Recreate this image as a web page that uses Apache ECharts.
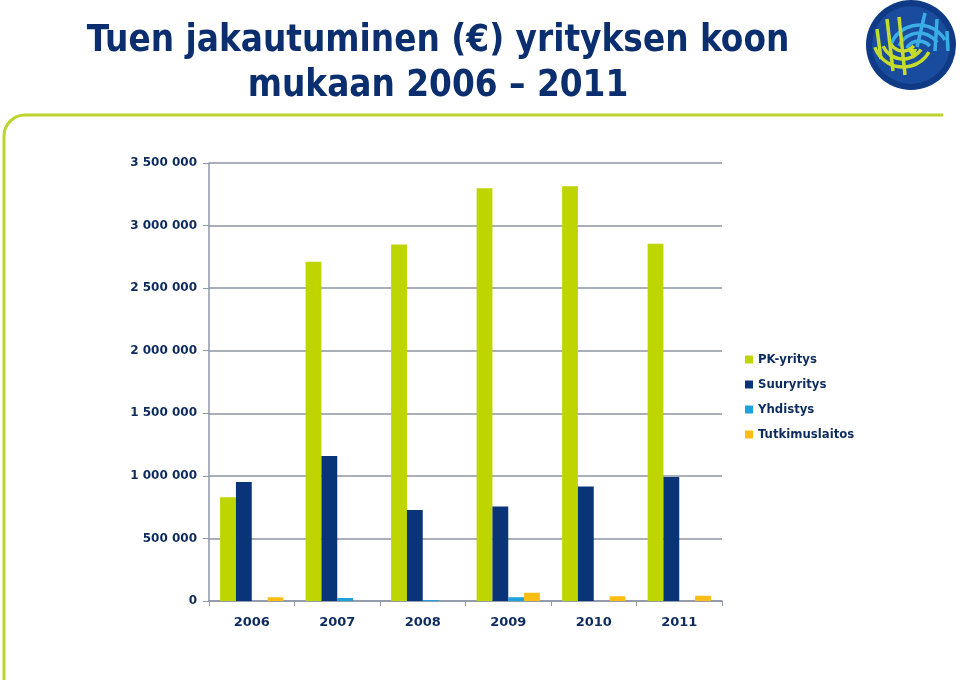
<!DOCTYPE html>
<html>
<head>
<meta charset="utf-8">
<script src="https://cdn.jsdelivr.net/npm/echarts@6/dist/echarts.min.js"></script>
<style>
html,body{margin:0;padding:0;background:#fff;}
#c{width:960px;height:685px;}
</style>
</head>
<body>
<div id="c"></div>
<script>
var titleText = 'Tuen jakautuminen (€) yrityksen koon\nmukaan 2006 – 2011';
var years = ['2006', '2007', '2008', '2009', '2010', '2011'];
var seriesNames = ['PK-yritys', 'Suuryritys', 'Yhdistys', 'Tutkimuslaitos'];
var pkYritys = [830000, 2710000, 2848000, 3299000, 3315000, 2855000];
var suuryritys = [950000, 1158000, 727000, 755000, 914000, 990000];
var yhdistys = [0, 24000, 8000, 30000, 0, 0];
var tutkimuslaitos = [30000, 0, 0, 66000, 38000, 42000];
var yTicks = { min: 0, max: 3500000, interval: 500000 };

var colors = ['#bfd500', '#0a3478', '#1ea0da', '#fbbd12'];
var navy = '#0e2b5e';
var lime = '#bdd42e';

function fmt(v) {
  return String(v).replace(/\B(?=(\d{3})+(?!\d))/g, ' ');
}

var chart = echarts.init(document.getElementById('c'), null, { renderer: 'canvas' });

var dataSets = [pkYritys, suuryritys, yhdistys, tutkimuslaitos];
var series = seriesNames.map(function (n, i) {
  return {
    name: n,
    type: 'bar',
    data: dataSets[i],
    barGap: '0%',
    barCategoryGap: '26%',
    itemStyle: { color: colors[i] },
    silent: true
  };
});

var D = Math.PI / 180;
var lcx = 911, lcy = 45;
var lb = '#3aaee4', lg = '#c6dc2c';
var logo = [
  { type: 'circle', shape: { cx: lcx, cy: lcy, r: 45 }, style: { fill: '#0e3a86' } },
  { type: 'circle', shape: { cx: lcx, cy: lcy, r: 39 }, style: { fill: '#1a4c9e' } }
];
[[30, 200, 330], [22, 205, 325], [14, 210, 320]].forEach(function (a) {
  logo.push({ type: 'arc', shape: { cx: lcx + 8, cy: lcy + 10, r: a[0], startAngle: a[1] * D, endAngle: a[2] * D }, style: { stroke: lb, lineWidth: 3.5, fill: null } });
});
[[14, -32, 6, 2], [26, -26, 24, 6], [36, -14, 37, 6]].forEach(function (p) {
  logo.push({ type: 'line', shape: { x1: lcx + p[0], y1: lcy + p[1], x2: lcx + p[2], y2: lcy + p[3] }, style: { stroke: lb, lineWidth: 3.5 } });
});
[[30, 30, 160], [22, 35, 155], [14, 40, 150]].forEach(function (a) {
  logo.push({ type: 'arc', shape: { cx: lcx - 8, cy: lcy - 8, r: a[0], startAngle: a[1] * D, endAngle: a[2] * D }, style: { stroke: lg, lineWidth: 3.5, fill: null } });
});
[[-34, -16, -30, 14], [-24, -26, -18, 26], [-12, -28, -6, 30]].forEach(function (p) {
  logo.push({ type: 'line', shape: { x1: lcx + p[0], y1: lcy + p[1], x2: lcx + p[2], y2: lcy + p[3] }, style: { stroke: lg, lineWidth: 3.5 } });
});
logo.push({ type: 'polygon', shape: { points: [[lcx + 6, lcy + 4], [lcx - 4, lcy + 4], [lcx + 3, lcy + 14]] }, style: { fill: lg } });

var frame = [
  { type: 'line', shape: { x1: 4, y1: 136, x2: 4, y2: 680 }, style: { stroke: lime, lineWidth: 3 } },
  { type: 'arc', shape: { cx: 25, cy: 136, r: 21, startAngle: 180 * D, endAngle: 270 * D }, style: { stroke: lime, lineWidth: 3, fill: null } },
  { type: 'line', shape: { x1: 25, y1: 115, x2: 943, y2: 115 }, style: { stroke: lime, lineWidth: 3 } }
];

var option = {
  backgroundColor: '#ffffff',
  animation: false,
  title: {
    text: titleText,
    left: 433,
    top: 14,
    textAlign: 'center',
    textStyle: {
      fontFamily: 'DejaVu Sans Condensed',
      fontWeight: 'bold',
      fontSize: 36.5,
      lineHeight: 45,
      color: '#0b2e6e'
    }
  },
  legend: {
    orient: 'vertical',
    left: 740,
    top: 347,
    itemWidth: 8,
    itemHeight: 8,
    itemGap: 10,
    icon: 'rect',
    data: seriesNames,
    textStyle: {
      fontFamily: 'DejaVu Sans Condensed',
      fontWeight: 'bold',
      fontSize: 13,
      lineHeight: 15,
      color: navy
    }
  },
  grid: { left: 209, right: 238, top: 163, height: 438, containLabel: false },
  xAxis: {
    type: 'category',
    data: years,
    axisLine: { lineStyle: { color: '#8d97a8', width: 1.5 } },
    axisTick: { show: true, length: 5, lineStyle: { color: '#8d97a8' } },
    axisLabel: {
      margin: 15,
      fontFamily: 'DejaVu Sans',
      fontWeight: 'bold',
      fontSize: 13,
      color: navy
    }
  },
  yAxis: {
    type: 'value',
    min: yTicks.min,
    max: yTicks.max,
    interval: yTicks.interval,
    axisLine: { show: true, lineStyle: { color: '#8d97a8', width: 1.5 } },
    axisTick: { show: true, length: 6, lineStyle: { color: '#8d97a8' } },
    splitLine: { show: true, lineStyle: { color: '#a9aeb8', width: 2 } },
    axisLabel: {
      margin: 12,
      fontFamily: 'DejaVu Sans',
      fontWeight: 'bold',
      fontSize: 12,
      color: navy,
      formatter: fmt
    }
  },
  graphic: frame.concat(logo),
  series: series
};

chart.setOption(option);
</script>
</body>
</html>
